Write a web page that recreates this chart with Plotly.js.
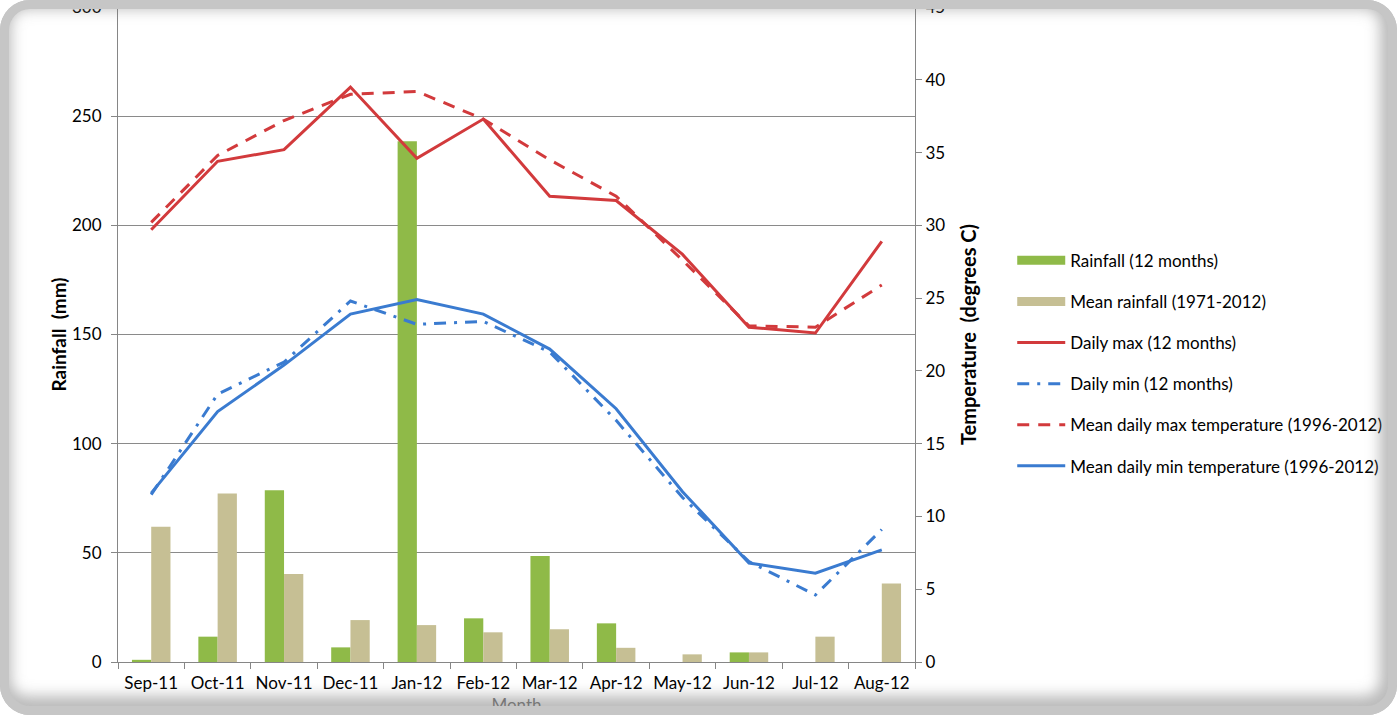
<!DOCTYPE html>
<html>
<head>
<meta charset="utf-8">
<script src="https://cdn.plot.ly/plotly-3.0.1.min.js"></script>
<style>
  html, body { margin: 0; padding: 0; background: #ffffff; }
  #chart { width: 1397px; height: 715px; }
  #frame {
    position: fixed; left: 0; top: 0; width: 1397px; height: 715px;
    pointer-events: none; box-sizing: border-box;
    border-radius: 30px;
    box-shadow: inset 0 0 0 9px #c6c6c6, inset -3px -5px 14px 14px rgba(120,120,120,0.5);
  }
</style>
</head>
<body>
<div id="chart"></div>
<div id="frame"></div>
<script>
const months = ["Sep-11","Oct-11","Nov-11","Dec-11","Jan-12","Feb-12","Mar-12","Apr-12","May-12","Jun-12","Jul-12","Aug-12"];
const rainfall12 = [1, 11.6, 78.7, 6.7, 238.5, 20, 48.5, 17.7, 0, 4.4, 0, 0];
const meanRainfall = [61.9, 77.2, 40.3, 19.2, 16.9, 13.6, 15, 6.5, 3.5, 4.4, 11.6, 36];
const dailyMax12 = [29.7, 34.4, 35.2, 39.5, 34.6, 37.3, 32.0, 31.7, 28.0, 23.0, 22.6, 28.9];
const dailyMin12 = [11.5, 18.4, 20.6, 24.8, 23.2, 23.4, 21.3, 16.6, 11.3, 6.9, 4.6, 9.1];
const meanDailyMax = [30.2, 34.8, 37.2, 39.0, 39.2, 37.3, 34.5, 32.0, 27.6, 23.1, 23.0, 25.9];
const meanDailyMin = [11.6, 17.2, 20.4, 23.9, 24.9, 23.9, 21.5, 17.4, 11.7, 6.8, 6.1, 7.7];

const red = "#d23a3c";
const blue = "#3a7bd0";
const green = "#8fba48";
const tan = "#c6bf94";
const font = "Lato, 'Open Sans', sans-serif";

const traces = [
  {type: "bar", x: months, y: rainfall12, name: "Rainfall (12 months)", marker: {color: green}, showlegend: false, yaxis: "y"},
  {type: "bar", x: months, y: meanRainfall, name: "Mean rainfall (1971-2012)", marker: {color: tan}, showlegend: false, yaxis: "y"},
  // legend-only swatches for the bar series (wide rectangles as in the reference)
  {type: "scatter", mode: "lines", x: [months[0]], y: [null], name: "Rainfall (12 months)", line: {color: green, width: 9}, legendgroup: "a", yaxis: "y", hoverinfo: "skip"},
  {type: "scatter", mode: "lines", x: [months[0]], y: [null], name: "Mean rainfall (1971-2012)", line: {color: tan, width: 9}, legendgroup: "b", yaxis: "y", hoverinfo: "skip"},
  {type: "scatter", mode: "lines", x: months, y: dailyMax12, name: "Daily max (12 months)", line: {color: red, width: 3}, legendgroup: "c", yaxis: "y2"},
  {type: "scatter", mode: "lines", x: months, y: dailyMin12, name: "Daily min (12 months)", line: {color: blue, width: 3, dash: "12px,8px,3px,8px"}, legendgroup: "d", yaxis: "y2"},
  {type: "scatter", mode: "lines", x: months, y: meanDailyMax, name: "Mean daily max temperature (1996-2012)", line: {color: red, width: 3, dash: "12px,9px"}, legendgroup: "e", yaxis: "y2"},
  {type: "scatter", mode: "lines", x: months, y: meanDailyMin, name: "Mean daily min temperature (1996-2012)", line: {color: blue, width: 3}, legendgroup: "f", yaxis: "y2"}
];

const layout = {
  width: 1397, height: 715,
  margin: {l: 118, r: 482, t: 7, b: 53},
  paper_bgcolor: "#ffffff", plot_bgcolor: "#ffffff",
  font: {family: font, size: 17, color: "#000000"},
  barmode: "group", bargap: 0.42, bargroupgap: 0,
  showlegend: true,
  legend: {x: 1.122, xanchor: "left", y: 0.456, yanchor: "middle", tracegroupgap: 16, itemwidth: 48,
           font: {family: font, size: 17, color: "#000000"}, bgcolor: "rgba(0,0,0,0)"},
  xaxis: {
    type: "category", showgrid: false, showline: true, linecolor: "#868686", linewidth: 1,
    ticks: "outside", tickson: "boundaries", ticklen: 6, tickcolor: "#868686", tickangle: 0,
    tickfont: {family: font, size: 17}, automargin: false, ticklabelstandoff: 6,
    title: {text: "Month", font: {family: font, size: 17, color: "#777"}, standoff: 6}
  },
  yaxis: {
    range: [0, 300], dtick: 50, showgrid: true, gridcolor: "#8a8a8a", gridwidth: 1,
    showline: true, linecolor: "#868686", linewidth: 1, ticks: "outside", ticklen: 6, tickcolor: "#868686",
    zeroline: false, tickfont: {family: font, size: 17}, automargin: false, ticklabelstandoff: 6,
    ticklabeloverflow: "allow",
    title: {text: "<b>Rainfall  (mm)</b>", font: {family: font, size: 19}, standoff: 0}
  },
  yaxis2: {
    overlaying: "y", side: "right", range: [0, 45], dtick: 5, showgrid: false,
    showline: true, linecolor: "#868686", linewidth: 1, ticks: "outside", ticklen: 6, tickcolor: "#868686",
    zeroline: false, tickfont: {family: font, size: 17}, automargin: false, ticklabeloverflow: "allow",
    title: {text: "<b>Temperature  (degrees C)</b>", font: {family: font, size: 20}, standoff: 17}
  }
};

Plotly.newPlot("chart", traces, layout, {displayModeBar: false, staticPlot: true});
</script>
</body>
</html>
